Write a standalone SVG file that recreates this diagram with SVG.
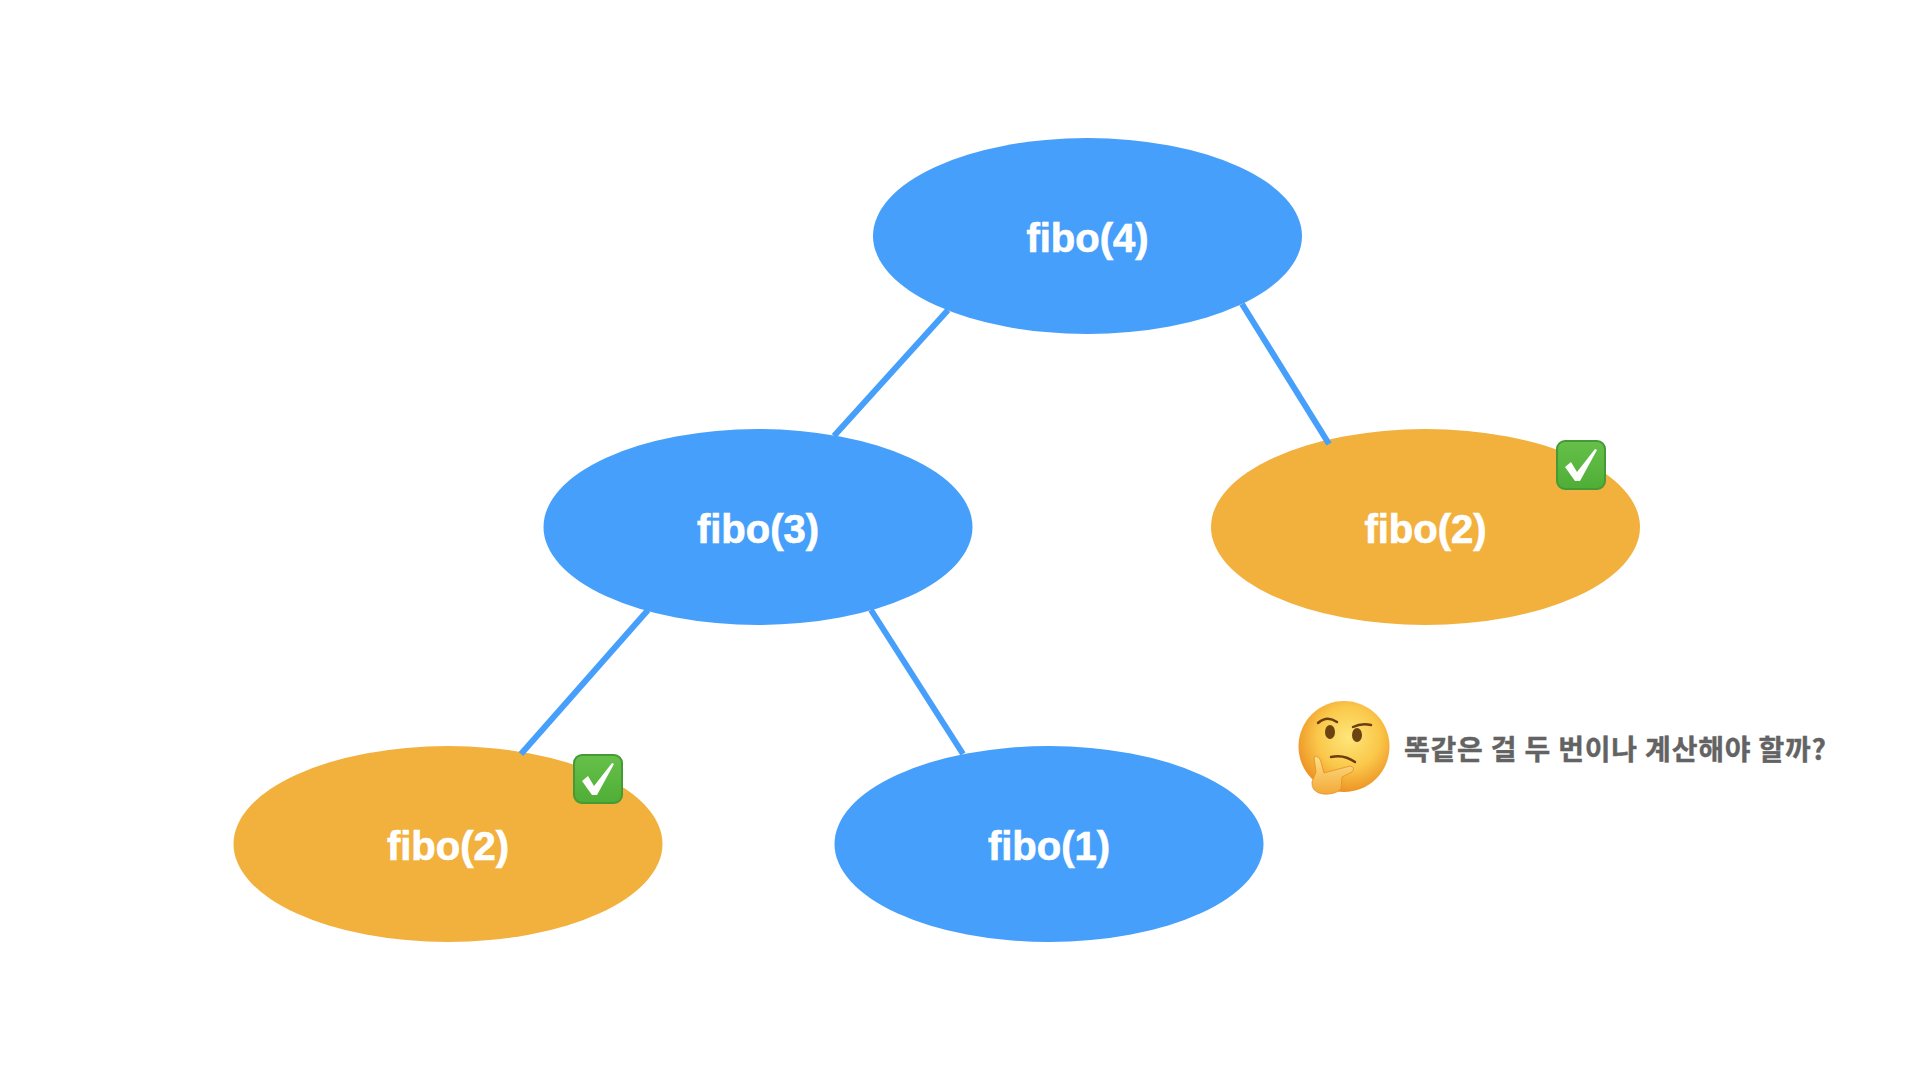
<svg xmlns="http://www.w3.org/2000/svg" width="1920" height="1080" viewBox="0 0 1920 1080">
<defs>
<style>
.blue{fill:#469ffa}.orange{fill:#f2b03d}
.lbl{font:bold 40px "Liberation Sans","Noto Sans",Arial,sans-serif;fill:#fff;stroke:#fff;stroke-width:.7;text-anchor:middle}
.edge{stroke:#469ffa;stroke-width:6;fill:none}
.feat{fill:none;stroke:#6b3d10;stroke-width:2.500;stroke-linecap:round}
</style>
<radialGradient id="face" cx="0.55" cy="0.4" r="0.62"><stop offset="0" stop-color="#fde67a"/><stop offset="0.55" stop-color="#fac84a"/><stop offset="1" stop-color="#ec8f22"/></radialGradient>
<linearGradient id="hand" x1="0" y1="0" x2="0" y2="1"><stop offset="0" stop-color="#fde08a"/><stop offset="1" stop-color="#f3a936"/></linearGradient>
<linearGradient id="box" x1="0" y1="0" x2="0" y2="1"><stop offset="0" stop-color="#66c04a"/><stop offset="1" stop-color="#4fae36"/></linearGradient>
<g id="check">
<rect x="1" y="1" width="48" height="48" rx="8" fill="url(#box)" stroke="#459a35" stroke-width="2"/>
<path d="M9 27 L15 22 L21 32 L39 9 L41 10 L24 41 L19 41 Z" fill="#fff"/>
</g>
</defs>
<rect width="1920" height="1080" fill="#fff"/>
<g id="node-fibo4"><ellipse class="blue" cx="1087.500" cy="236" rx="214.500" ry="98"/><text class="lbl" x="1087.500" y="252">fibo(4)</text></g>
<g id="node-fibo3"><ellipse class="blue" cx="758" cy="527" rx="214.500" ry="98"/><text class="lbl" x="758" y="543">fibo(3)</text></g>
<g id="node-fibo2-right"><ellipse class="orange" cx="1425.500" cy="527" rx="214.500" ry="98"/><text class="lbl" x="1425.500" y="543">fibo(2)</text>
<use href="#check" x="1556" y="440"/></g>
<g id="node-fibo2-left"><ellipse class="orange" cx="448" cy="844" rx="214.500" ry="98"/><text class="lbl" x="448" y="860">fibo(2)</text>
<use href="#check" x="573" y="754"/></g>
<g id="node-fibo1"><ellipse class="blue" cx="1049" cy="844" rx="214.500" ry="98"/><text class="lbl" x="1049" y="860">fibo(1)</text></g>
<g id="connectors">
<line class="edge" x1="948" y1="310" x2="834" y2="436"/>
<line class="edge" x1="1242" y1="304" x2="1329" y2="444"/>
<line class="edge" x1="648" y1="610" x2="521" y2="754"/>
<line class="edge" x1="871" y1="610" x2="963" y2="754"/>
</g>
<g id="note">
<circle cx="1344" cy="746.500" r="45.500" fill="url(#face)"/>
<path class="feat" d="M1318 723 Q1327 715 1337 722"/>
<path class="feat" d="M1353 727 Q1361 723 1371 725"/>
<ellipse cx="1330" cy="732" rx="5" ry="7" fill="#6b4210"/>
<ellipse cx="1357" cy="735" rx="5" ry="7" fill="#6b4210"/>
<path class="feat" d="M1331 757 Q1344 754 1355 762"/>
<path d="M1314 757 Q1319 755 1321 762 L1324 773 L1350 766 Q1356 767 1352 772 L1342 777 L1341 789 Q1335 795 1323 794 Q1311 792 1312 782 L1316 772 Z" fill="url(#hand)" stroke="#e48f24" stroke-width=".8"/>
<text x="1404" y="760" font-family="'Noto Sans CJK KR','Liberation Sans',sans-serif" font-weight="700" font-size="28" fill="#636363" stroke="#636363" stroke-width=".4" textLength="422">똑같은 걸 두 번이나 계산해야 할까?</text>
</g>
</svg>
